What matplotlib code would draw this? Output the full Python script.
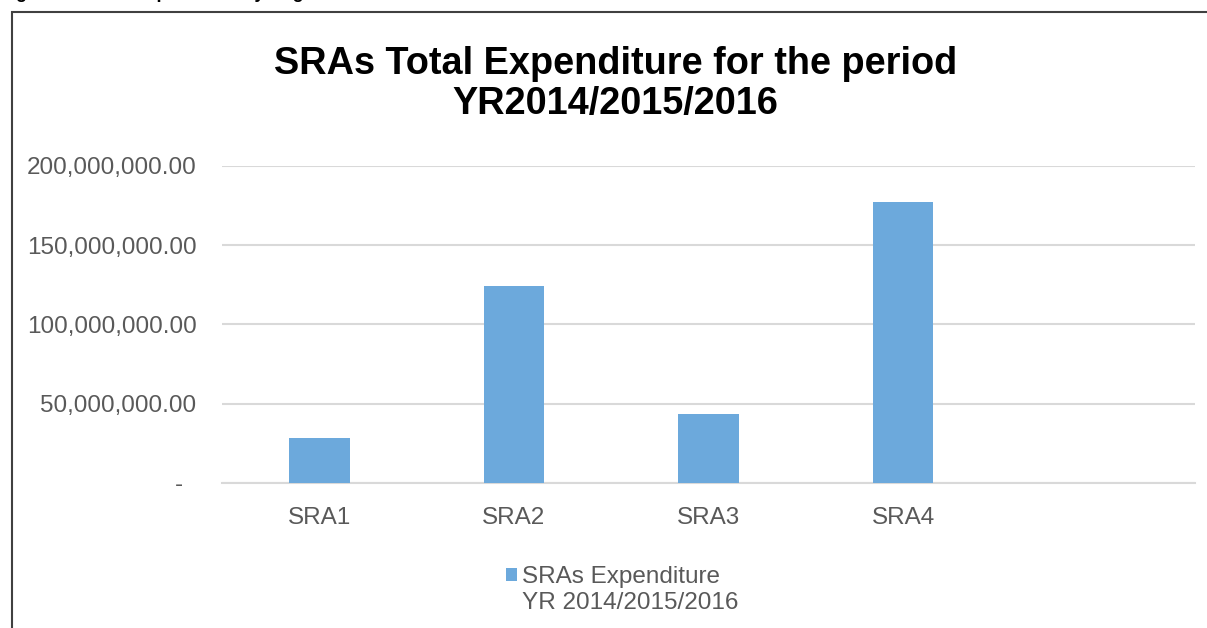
"""
Recreation of the SRAs total expenditure bar chart (YR2014/2015/2016).
"""

import matplotlib
matplotlib.use("Agg")
from matplotlib import pyplot as plt
from matplotlib.patches import Rectangle
from matplotlib.ticker import FuncFormatter

# Data
regions = ["SRA1", "SRA2", "SRA3", "SRA4"]
expenditure = [28_200_000, 124_300_000, 43_700_000, 177_000_000]
series_label = ["SRAs Expenditure", "YR 2014/2015/2016"]
y_ticks = [0, 50_000_000, 100_000_000, 150_000_000, 200_000_000]

BAR_COLOR = "#6CA9DC"
GRID_COLOR = "#D9D9D9"
TEXT_COLOR = "#595959"
FONT_SIZE = 17.5

plt.rcParams["font.family"] = ["Liberation Sans", "DejaVu Sans"]

fig = plt.figure(figsize=(12.07, 6.28), dpi=100)
ax = fig.add_axes([0.184, 0.231, 0.806, 0.505])


def accounting(value, _pos):
    # Excel accounting style: zero shown as a dash
    if value == 0:
        return "-  "
    return f"{value:,.2f}"


ax.bar(range(len(regions)), expenditure, width=0.31, color=BAR_COLOR,
       label=series_label[0], zorder=3)

ax.set_xlim(-0.5, 4.5)
ax.set_ylim(0, 200_000_000)
ax.set_xticks(range(len(regions)))
ax.set_xticklabels(regions)
ax.set_yticks(y_ticks)
ax.yaxis.set_major_formatter(FuncFormatter(accounting))
ax.tick_params(axis="both", length=0, labelsize=FONT_SIZE, colors=TEXT_COLOR)
ax.tick_params(axis="x", pad=17.5)
ax.tick_params(axis="y", pad=18.5)
ax.grid(axis="y", color=GRID_COLOR, linewidth=1.5, zorder=0)
for side in ["top", "right", "left"]:
    ax.spines[side].set_visible(False)
ax.spines["bottom"].set_color(GRID_COLOR)
ax.spines["bottom"].set_linewidth(1.5)

fig.suptitle("SRAs Total Expenditure for the period\nYR2014/2015/2016",
             x=0.51, y=0.926, fontsize=27.3, fontweight="bold",
             linespacing=1.12)

# Legend marker sits next to the first line of the series name
ax.legend(loc="upper left", bbox_to_anchor=(0.419, 0.0985),
          bbox_transform=fig.transFigure, frameon=False, fontsize=FONT_SIZE,
          labelcolor=TEXT_COLOR, handlelength=0.45, handleheight=0.45,
          handletextpad=0.2, borderpad=0, borderaxespad=0)
fig.text(0.4325, 1 - 603 / 628, series_label[1], fontsize=FONT_SIZE,
         color=TEXT_COLOR, ha="left", va="center")

# Chart frame, cut off at the right and bottom like the source page
fig.add_artist(Rectangle((12 / 1207, -0.1), 1.2, 1.1 - 12 / 628,
                         transform=fig.transFigure, fill=False,
                         edgecolor="#404040", linewidth=1.5, clip_on=False))

# Caption of the page above the chart, mostly outside the picture
fig.text(0.0, 1 + 2 / 628, "Figure 3: SRAs Expenditure by Region",
         fontsize=13, fontweight="bold", va="baseline", ha="left")

fig.savefig("out.png", dpi=100)
